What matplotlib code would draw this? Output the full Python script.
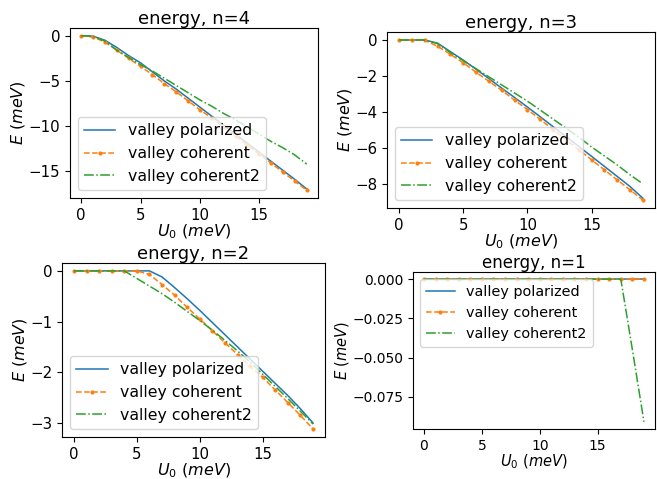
import numpy as np
import matplotlib
matplotlib.use("Agg")
import matplotlib.pyplot as plt

U0 = np.arange(20)

# n = 4
pol_4 = [0, -0.05, -0.5, -1.3, -2.2, -3.0, -4.0, -5.0, -5.9, -6.9, -7.9,
         -8.9, -9.9, -10.9, -11.9, -12.9, -13.9, -14.9, -15.9, -16.95]
coh_4 = [0, -0.15, -0.7, -1.6, -2.5, -3.4, -4.3, -5.3, -6.2, -7.2, -8.2,
         -9.1, -10.1, -11.1, -12.1, -13.1, -14.1, -15.1, -16.1, -17.1]
coh2_4 = [0, -0.05, -0.6, -1.6, -2.4, -3.2, -3.9, -4.7, -5.5, -6.3, -7.1,
          -7.8, -8.6, -9.3, -10.1, -10.9, -11.7, -12.4, -13.2, -14.2]

# n = 3
pol_3 = [0, 0, 0, -0.18, -0.65, -1.12, -1.63, -2.15, -2.68, -3.2, -3.73,
         -4.27, -4.82, -5.37, -5.92, -6.47, -7.03, -7.59, -8.15, -8.8]
coh_3 = [0, 0, -0.02, -0.35, -0.8, -1.27, -1.8, -2.3, -2.8, -3.35, -3.87,
         -4.42, -4.98, -5.54, -6.1, -6.66, -7.22, -7.78, -8.34, -8.9]
coh2_3 = [0, 0, 0, -0.2, -0.7, -1.15, -1.6, -2.05, -2.5, -2.95, -3.4,
          -3.9, -4.4, -4.9, -5.4, -5.95, -6.45, -6.95, -7.5, -8.0]

# n = 2
pol_2 = [0, 0, 0, 0, 0, 0, 0, -0.12, -0.33, -0.55, -0.78,
         -1.02, -1.26, -1.5, -1.74, -1.98, -2.22, -2.46, -2.72, -3.0]
coh_2 = [0, 0, 0, 0, 0, 0, -0.07, -0.27, -0.48, -0.72, -0.95,
         -1.18, -1.42, -1.65, -1.88, -2.1, -2.35, -2.6, -2.85, -3.12]
coh2_2 = [0, 0, 0, 0, 0, -0.15, -0.3, -0.45, -0.62, -0.8, -0.98,
          -1.17, -1.37, -1.58, -1.8, -2.04, -2.28, -2.52, -2.77, -3.02]

# n = 1
pol_1 = [0] * 20
coh_1 = [0] * 20
coh2_1 = [0] * 18 + [-0.045, -0.091]

# n, series, axes rect, legend loc, (title, label, tick, legend) sizes
big = (13, 11.5, 10.8, 11.3)
small = (12, 10.5, 10, 10.4)
panels = [
    (4, pol_4, coh_4, coh2_4, [0.1065, 0.5866, 0.3775, 0.3549], "lower left", big),
    (3, pol_3, coh_3, coh2_3, [0.589, 0.5658, 0.408, 0.3674], "lower left", big),
    (2, pol_2, coh_2, coh2_2, [0.0944, 0.0877, 0.4003, 0.3633], "lower left", big),
    (1, pol_1, coh_1, coh2_1, [0.6286, 0.1044, 0.3683, 0.3278], "upper left", small),
]

fig = plt.figure(figsize=(6.57, 4.79), dpi=100)
for n, pol, coh, coh2, pos, loc, fs in panels:
    ax = fig.add_axes(pos)
    ax.plot(U0, pol, '-', color='#1f77b4', lw=1.1, label='valley polarized')
    ax.plot(U0, coh, '--', color='#ff7f0e', lw=1.1, marker='.', ms=4,
            label='valley coherent')
    ax.plot(U0, coh2, '-.', color='#2ca02c', lw=1.1, label='valley coherent2')
    ax.set_title(f"energy, n={n}", fontsize=fs[0], pad=3)
    ax.set_xlabel(r"$U_0\ (meV)$", fontsize=fs[1], labelpad=0)
    ax.set_ylabel(r"$E\ (meV)$", fontsize=fs[1], labelpad=1)
    ax.tick_params(labelsize=fs[2])
    ax.legend(loc=loc, fontsize=fs[3])

fig.savefig("out.png", dpi=100)
